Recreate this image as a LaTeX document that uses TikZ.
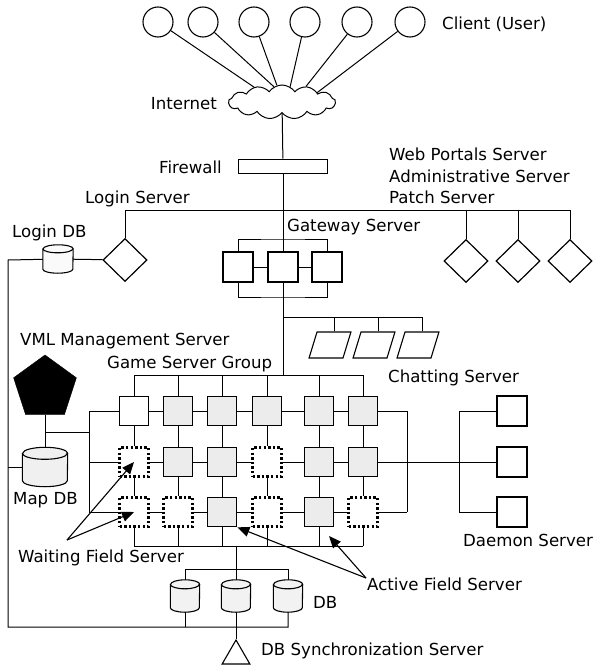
\documentclass[tikz,border=0pt]{standalone}
\usepackage{fontspec}
\setmainfont{DejaVu Sans}
\usepackage{tikz}
\usetikzlibrary{shapes,arrows.meta}
\tikzstyle{client} = [draw, circle, line width=1.1pt, minimum size=30pt, inner sep=0pt]
\tikzstyle{cloudy} = [draw, cloud, cloud puffs=13, cloud puff arc=110, aspect=3.2, line width=1pt,
minimum width=107pt, minimum height=34pt, inner sep=0pt]
\tikzstyle{wall} = [draw, rectangle, line width=0.9pt, minimum width=89pt, minimum height=14pt, inner sep=0pt]
\tikzstyle{server} = [draw, diamond, line width=1.2pt, minimum width=44pt, minimum height=43pt, inner sep=0pt]
\tikzstyle{block} = [draw, rectangle, line width=1.2pt, minimum size=30pt, inner sep=0pt]
\tikzstyle{chat} = [draw, trapezium, trapezium left angle=73, trapezium right angle=107,
line width=1.1pt, minimum width=35pt, minimum height=26pt, inner sep=1pt]
\tikzstyle{active} = [draw, rectangle, fill=gray!15, line width=1.7pt, minimum size=29pt, inner sep=0pt]
\tikzstyle{idle} = [active, fill=white]
\tikzstyle{waiting} = [draw, rectangle, line width=2.2pt, dash pattern=on 2.4pt off 2.2pt, minimum size=29pt, inner sep=0pt]
\tikzstyle{dbspot} = [rectangle, inner sep=0pt]
\tikzstyle{vml} = [draw, fill=black, regular polygon, regular polygon sides=5, minimum size=66pt, inner sep=0pt]
\tikzstyle{sync} = [draw, regular polygon, regular polygon sides=3, line width=1.1pt, minimum size=32pt, inner sep=0pt]
\tikzstyle{txt} = [anchor=base west, inner sep=0pt, font=\fontsize{16.6pt}{21.5pt}\selectfont]
\tikzstyle{line} = [draw, line width=1pt]
\tikzstyle{pointer} = [draw, line width=1.1pt, -{Triangle[length=12pt,width=10pt]}]

% drum outline on a dbspot node: name, half width, cap radius, fill
\newcommand{\drum}[4]{%
  \filldraw[line width=1.1pt, fill=#4] ([yshift=-#3]#1.north west) -- ([yshift=#3]#1.south west)
    arc[start angle=180, end angle=360, x radius=#2, y radius=#3]
    -- ([yshift=-#3]#1.north east)
    arc[start angle=0, end angle=180, x radius=#2, y radius=#3] -- cycle;
  \draw[line width=1.1pt] ([yshift=-#3]#1.north west)
    arc[start angle=180, end angle=360, x radius=#2, y radius=#3];
}

\begin{document}
\begin{tikzpicture}[x=1pt, y=-1pt, node distance=45pt]
\useasboundingbox (0,0) rectangle (593,666);

% Place nodes
\node [client] (c1) at (158,22) {};
\node [client] (c2) at (203,22) {};
\node [client] (c3) at (254,22) {};
\node [client] (c4) at (305,22) {};
\node [client] (c5) at (357,22) {};
\node [client] (c6) at (410,22) {};
\node [cloudy] (internet) at (282,102) {};
\node [wall] (firewall) at (283,166) {};
\node [server] (login) at (125,260) {};
\node [dbspot, minimum width=30pt, minimum height=28pt] (logindb) at (58,259) {};
\node [server] (web) at (466,261) {};
\node [server, right of=web, node distance=52pt] (admin) {};
\node [server, right of=admin, node distance=52pt] (patch) {};
\node [block] (gw2) at (283,267) {};
\node [block, left of=gw2] (gw1) {};
\node [block, right of=gw2, node distance=44pt] (gw3) {};
\node [chat] (ch1) at (330,345) {};
\node [chat, right of=ch1, node distance=44pt] (ch2) {};
\node [chat, right of=ch2, node distance=44pt] (ch3) {};
\node [vml] (vmlsrv) at (45,388) {};
\node [dbspot, minimum width=45pt, minimum height=39pt] (mapdb) at (45,467) {};

% game server group
\node [idle] (g11) at (134,411) {};
\node [active] (g12) at (178,411) {};
\node [active] (g13) at (222,411) {};
\node [active] (g14) at (267,411) {};
\node [active] (g15) at (319,411) {};
\node [active] (g16) at (363,411) {};
\node [waiting] (g21) at (134,462) {};
\node [active] (g22) at (178,462) {};
\node [active] (g23) at (222,462) {};
\node [waiting] (g24) at (267,462) {};
\node [active] (g25) at (319,462) {};
\node [active] (g26) at (363,462) {};
\node [waiting] (g31) at (134,512) {};
\node [waiting] (g32) at (178,512) {};
\node [active] (g33) at (222,512) {};
\node [waiting] (g34) at (267,512) {};
\node [active] (g35) at (319,512) {};
\node [waiting] (g36) at (363,512) {};

\node [block, line width=1.6pt] (d1) at (512,411) {};
\node [block, line width=1.6pt, below of=d1, node distance=51pt] (d2) {};
\node [block, line width=1.6pt, below of=d2, node distance=50pt] (d3) {};
\node [dbspot, minimum width=29pt, minimum height=32pt] (db2) at (236,596) {};
\node [dbspot, minimum width=29pt, minimum height=32pt, left of=db2, node distance=51pt] (db1) {};
\node [dbspot, minimum width=29pt, minimum height=32pt, right of=db2, node distance=52pt] (db3) {};
\node [sync] (sync) at (236,656) {};

% Place labels
\node [txt] (clientlbl) at (442,30) {Client (User)};
\node [txt, anchor=base east] (inetlbl) at (217,110) {Internet};
\node [txt, anchor=base east] (walllbl) at (222,173) {Firewall};
\node [txt] (weblbl) at (389,160.5) {Web Portals Server};
\node [txt] (adminlbl) at (389,182) {Administrative Server};
\node [txt] (patchlbl) at (389,203.5) {Patch Server};
\node [txt] (loginlbl) at (85,203.5) {Login Server};
\node [txt] (gwlbl) at (287,231) {Gateway Server};
\node [txt] (logindblbl) at (12,237) {Login DB};
\node [txt] (vmllbl) at (20,345) {VML Management Server};
\node [txt] (gamelbl) at (107,368) {Game Server Group};
\node [txt] (chatlbl) at (388,382) {Chatting Server};
\node [txt] (mapdblbl) at (13,504) {Map DB};
\node [txt] (waitlbl) at (18,562) {Waiting Field Server};
\node [txt] (daemonlbl) at (463,546) {Daemon Server};
\node [txt] (activelbl) at (367,590) {Active Field Server};
\node [txt] (dblbl) at (313,608) {DB};
\node [txt] (synclbl) at (261,655) {DB Synchronization Server};

% Junctions
\coordinate (busL) at (125,210);
\coordinate (busR) at (570,210);
\coordinate (gwtop) at (283,239);
\coordinate (gwbot) at (283,297);
\coordinate (chatj) at (283,317);
\coordinate (gtop) at (283,375);
\coordinate (gbot) at (236,546);
\coordinate (l1) at (89,411);
\coordinate (l3) at (89,512);
\coordinate (lj) at (89,432);
\coordinate (vmlj) at (45,432);
\coordinate (r1) at (407,411);
\coordinate (r3) at (407,512);
\coordinate (dtop) at (459,411);
\coordinate (dbot) at (459,512);
\coordinate (dbtop) at (236,569);
\coordinate (outerT) at (8,260);
\coordinate (outerB) at (8,627);
\coordinate (wfrom) at (67,540);
\coordinate (afrom) at (366,578);
\coordinate (atip) at (329,536);

% Place lines
\draw [line] (c1) -- (internet.152);
\draw [line] (c2) -- (internet.118);
\draw [line] (c3) -- (internet.107);
\draw [line] (c4) -- (internet.62);
\draw [line] (c5) -- (internet.33);
\draw [line] (c6) -- (internet.15);
\draw [line] (internet) -- (firewall);
\draw [line] (firewall) -- (gw2);
\draw [line] (login) -- (busL) -- (busR) -- (patch);
\draw [line] (web) -- (web |- busL);
\draw [line] (admin) -- (admin |- busL);
\draw [line] (logindb) -- (login);
\draw [line] (gw1) -- (gw2) -- (gw3);
\draw [line] (gw1) |- (gwtop) -| (gw3);
\draw [line] (gw1) |- (gwbot) -| (gw3);
\draw [line] (gw2) -- (gtop);
\draw [line] (chatj) -| (ch3.top side);
\draw [line] (ch1.top side) -- (ch1.top side |- chatj);
\draw [line] (ch2.top side) -- (ch2.top side |- chatj);

\draw [line] (g11 |- gtop) -- (g16 |- gtop);
\draw [line] (g31 |- gbot) -- (g36 |- gbot);
\draw [line] (g11 |- gtop) -- (g11) -- (g21) -- (g31) -- (g31 |- gbot);
\draw [line] (g12 |- gtop) -- (g12) -- (g22) -- (g32) -- (g32 |- gbot);
\draw [line] (g13 |- gtop) -- (g13) -- (g23) -- (g33) -- (g33 |- gbot);
\draw [line] (g14 |- gtop) -- (g14) -- (g24) -- (g34) -- (g34 |- gbot);
\draw [line] (g15 |- gtop) -- (g15) -- (g25) -- (g35) -- (g35 |- gbot);
\draw [line] (g16 |- gtop) -- (g16) -- (g26) -- (g36) -- (g36 |- gbot);
\draw [line] (l1) -- (g11) -- (g12) -- (g13) -- (g14) -- (g15) -- (g16) -- (r1);
\draw [line] (g21 -| l1) -- (g21) -- (g22) -- (g23) -- (g24) -- (g25) -- (g26) -- (d2);
\draw [line] (l3) -- (g31) -- (g32) -- (g33) -- (g34) -- (g35) -- (g36) -- (r3);
\draw [line] (l1) -- (l3);
\draw [line] (r1) -- (r3);
\draw [line] (d1) -- (dtop) -- (dbot) -- (d3);

\draw [line] (vmlsrv) -- (mapdb);
\draw [line] (vmlj) -- (lj);
\draw [line] (mapdb) -- (mapdb -| outerT);
\draw [line] (logindb) -- (outerT) -- (outerB) -- (outerB -| db3) -- (db3);
\draw [line] (db1) -- (db1 |- outerB);
\draw [line] (db1) -- (db1 |- dbtop) -- (db3 |- dbtop) -- (db3);
\draw [line] (gbot) -- (db2) -- (sync);

% Drums
\drum{logindb}{15pt}{4pt}{gray!4}
\drum{mapdb}{22.5pt}{6pt}{gray!12}
\drum{db1}{14.5pt}{4.5pt}{gray!10}
\drum{db2}{14.5pt}{4.5pt}{gray!10}
\drum{db3}{14.5pt}{4.5pt}{gray!10}

\draw [pointer] (wfrom) -- (g21.center);
\draw [pointer] (wfrom) -- (g31.center);
\draw [pointer] (afrom) -- (g33.south east);
\draw [pointer] (afrom) -- (atip);

\end{tikzpicture}
\end{document}
